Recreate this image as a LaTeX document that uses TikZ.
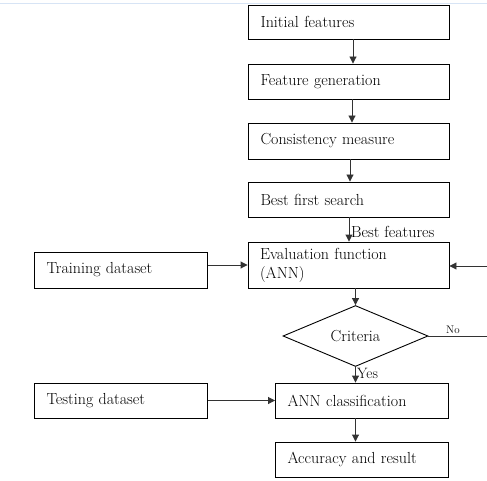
\documentclass[tikz,border=0pt]{standalone}
\usetikzlibrary{shapes.geometric,arrows.meta}
\begin{document}
\begin{tikzpicture}[x=1pt,y=-1pt,
  every node/.style={font=\fontsize{16}{19}\selectfont},
  box/.style={draw=black, line width=0.9pt, rectangle, inner xsep=12pt, inner ysep=0pt, align=left},
  wbox/.style={box, text width=177pt},
  nbox/.style={box, text width=149pt},
  arr/.style={draw=black!80, line width=0.9pt, -{Triangle[length=7pt,width=7pt]}},
  conn/.style={draw=black!80, line width=0.9pt},
  lbl/.style={inner sep=0pt}]
\useasboundingbox (0,0) rectangle (487,481);
\draw[color={rgb,255:red,215;green,228;blue,245}, line width=1pt] (0,3.5) -- (487,3.5);

\node[wbox, minimum height=34pt] (init) at (349,22) {Initial features};
\node[wbox, minimum height=35pt] (gen) at (349,81.5) {Feature generation};
\node[wbox, minimum height=36pt] (cons) at (349,141) {Consistency measure};
\node[wbox, minimum height=35pt] (bfs) at (349,199.5) {Best first search};
\node[wbox, minimum height=46pt] (eval) at (348.5,265) {Evaluation function\\(ANN)};
\node[nbox, minimum height=36pt] (train) at (121,270) {Training dataset};
\node[draw=black, line width=0.9pt, diamond, inner sep=0pt, minimum width=145pt, minimum height=46pt] (crit) at (355.5,336) {Criteria};
\node[nbox, minimum height=35pt] (test) at (121,400.5) {Testing dataset};
\node[nbox, minimum height=35pt] (ann) at (362,400.5) {ANN classification};
\node[nbox, minimum height=35pt] (acc) at (362,459.5) {Accuracy and result};

\coordinate (fbin) at (487,266);
\coordinate (noend) at (487,336);

\draw[arr] ([xshift=4pt]init.south) -- ([xshift=4pt]gen.north);
\draw[arr] ([xshift=3pt]gen.south) -- ([xshift=3pt]cons.north);
\draw[arr] ([xshift=1pt]cons.south) -- ([xshift=1pt]bfs.north);
\draw[arr] (bfs.south) -- (bfs.south |- eval.north);
\draw[arr] (eval.south -| crit.north) -- (crit.north);
\draw[arr] (train.east |- eval.west) -- (eval.west);
\draw[arr] (fbin) -- (eval.east |- fbin);
\draw[conn] (crit.east) -- (noend);
\draw[arr] (crit.south) -- (crit.south |- ann.north);
\draw[arr] (test.east |- ann.west) -- (ann.west);
\draw[arr] (ann.south -| crit.south) -- (acc.north -| crit.south);

\node[lbl, anchor=base west] (bfl) at (351,237) {Best features};
\node[lbl, anchor=base west, font=\fontsize{11}{13}\selectfont] (nol) at (446,333) {No};
\node[lbl, anchor=base west, font=\fontsize{15}{18}\selectfont] (yesl) at (357,378) {Yes};
\end{tikzpicture}
\end{document}
